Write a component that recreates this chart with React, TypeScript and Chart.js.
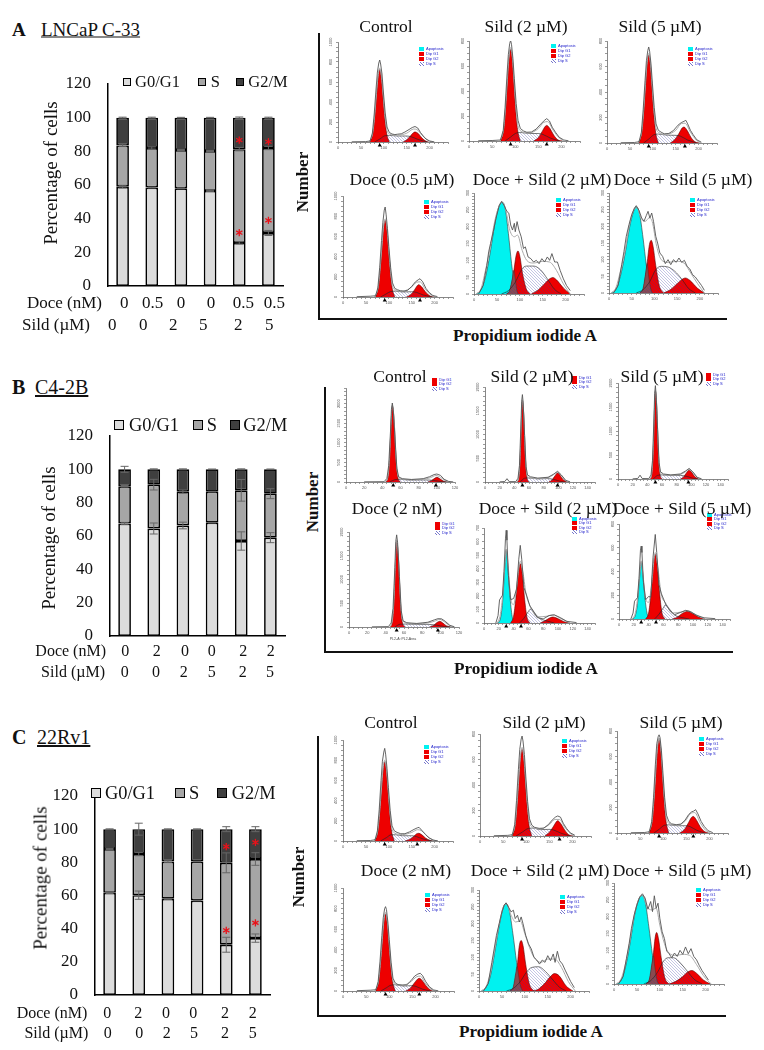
import React, { useEffect, useRef } from "react";
import { Chart, registerables } from "chart.js";
Chart.register(...registerables);

type P = [number, number];

// ---------- stacked bars ----------
const aDoce = ["0", "0.5", "0", "0", "0.5", "0.5"];
const aSild = ["0", "0", "2", "5", "2", "5"];
const bDoce = ["0", "2", "0", "0", "2", "2"];
const bSild = ["0", "0", "2", "5", "2", "5"];
const cDoce = ["0", "2", "0", "0", "2", "2"];
const cSild = ["0", "0", "2", "5", "2", "5"];

const aG0 = [59, 58.5, 58, 56.5, 25.6, 31.5];
const aS = [24.5, 23.5, 22.8, 23.7, 55.7, 50.5];
const aG2M = [16.5, 18, 19.2, 19.8, 18.7, 18];
const aErrG0 = [0.8, 0.3, 0.3, 0.3, 0.7, 1.5];
const aErrS = [0.7, 0.6, 0.3, 0.3, 1, 1];
const aErrTop = [0.3, 0.3, 0.2, 0.2, 0.4, 0.3];
const aStars: P[] = [[4, 31.7], [4, 86.7], [5, 39], [5, 85.7]];

const bG0 = [67.5, 64.5, 66.3, 68, 57, 59];
const bS = [22.3, 26.3, 20.3, 18.6, 30.4, 26.4];
const bG2M = [10.2, 9.2, 13.4, 13.4, 12.6, 14.6];
const bErrG0 = [0.7, 3.3, 2, 0.2, 5.5, 3];
const bErrS = [0.5, 3.2, 1, 0.2, 6.5, 3];
const bErrTop = [1.8, 0.3, 0.3, 0.2, 0.3, 0.2];
const bStars: P[] = [];

const cG0 = [61.6, 60.2, 58, 57, 30.3, 34.3];
const cS = [26.4, 24.8, 22.5, 23.5, 49.4, 47.7];
const cG2M = [12, 15, 19.5, 19.5, 20.3, 18];
const cErrG0 = [0.4, 2.5, 0.3, 0.2, 4.5, 2.5];
const cErrS = [0.3, 1, 0.7, 0.2, 6, 3.8];
const cErrTop = [0.2, 3.6, 0.2, 0.2, 1.5, 1.5];
const cStars: P[] = [[4, 39], [4, 89.5], [5, 43.5], [5, 92]];

// ---------- DNA histograms, panel A ----------
const aCtrlG1: P[] = [[70,0],[76,90],[80,250],[84,470],[87,625],[91,725],[95,625],[98,470],[102,250],[106,90],[112,0]];
const aCtrlG2: P[] = [[142,0],[150,22],[158,60],[165,95],[168,100],[175,85],[183,40],[192,8],[198,0]];
const aCtrlS: P[] = [[80,0],[92,32],[102,62],[112,66],[130,60],[150,60],[160,52],[175,25],[195,0]];
const aCtrlFit: P[] = [[68,0],[76,95],[80,260],[84,485],[87,640],[91,738],[95,645],[98,490],[102,275],[106,135],[112,80],[130,68],[150,88],[165,130],[172,125],[183,70],[195,20],[205,0]];
const aCtrlRaw: P[] = [[30,2],[60,4],[70,10],[75,90],[79,280],[83,530],[86,700],[89,790],[91,820],[93,780],[96,680],[99,500],[103,290],[107,150],[112,95],[118,80],[124,74],[130,78],[138,82],[146,100],[155,125],[162,145],[168,155],[174,140],[180,95],[186,60],[192,30],[200,10],[210,2]];

const aS2G1: P[] = [[69,0],[75,92],[79,257],[83,476],[86,638],[90,733],[94,638],[97,476],[101,257],[105,92],[111,0]];
const aS2G2: P[] = [[140,0],[150,28],[158,75],[165,118],[168,125],[175,100],[183,48],[192,10],[202,0]];
const aS2S: P[] = [[78,0],[90,32],[100,60],[112,68],[130,60],[150,60],[160,52],[175,25],[195,0]];
const aS2Fit: P[] = [[67,0],[75,98],[79,265],[83,490],[86,652],[90,748],[94,655],[97,495],[101,285],[105,140],[112,80],[130,64],[150,100],[162,150],[170,155],[182,85],[195,25],[205,0]];
const aS2Raw: P[] = [[20,2],[50,4],[68,8],[74,85],[78,270],[82,520],[85,690],[88,780],[90,805],[92,770],[95,660],[98,500],[102,300],[106,165],[111,100],[118,80],[125,70],[135,72],[145,95],[155,135],[163,165],[168,179],[174,160],[180,110],[187,70],[195,30],[205,8],[215,2]];

const aS5G1: P[] = [[70,0],[76,86],[80,241],[84,447],[87,599],[91,688],[95,599],[98,447],[102,241],[106,86],[112,0]];
const aS5G2: P[] = [[138,0],[148,28],[157,75],[164,118],[168,125],[175,98],[183,45],[192,10],[202,0]];
const aS5S: P[] = [[80,0],[92,34],[102,64],[112,70],[130,62],[150,60],[160,54],[175,25],[195,0]];
const aS5Fit: P[] = [[68,0],[76,92],[80,250],[84,460],[87,612],[91,702],[95,615],[98,465],[102,270],[106,135],[112,84],[130,68],[150,100],[162,152],[170,155],[182,85],[195,22],[205,0]];
const aS5Raw: P[] = [[30,2],[60,4],[70,10],[75,85],[79,265],[83,490],[86,645],[89,725],[91,753],[93,720],[96,620],[99,470],[103,280],[107,150],[112,100],[118,85],[125,72],[135,75],[145,98],[155,140],[162,160],[168,170],[172,178],[176,150],[182,100],[188,65],[196,25],[206,6]];

const aDG1: P[] = [[71,0],[77,95],[81,266],[85,493],[88,660],[92,759],[96,660],[99,493],[103,266],[107,95],[113,0]];
const aDG2: P[] = [[138,0],[148,24],[156,70],[162,112],[165,122],[172,98],[180,50],[190,10],[200,0]];
const aDS: P[] = [[82,0],[94,30],[104,54],[114,58],[130,50],[150,52],[160,46],[175,20],[195,0]];
const aDFit: P[] = [[69,0],[77,100],[81,275],[85,505],[88,675],[92,775],[96,678],[99,510],[103,290],[107,130],[113,70],[130,58],[150,100],[160,145],[168,150],[180,75],[192,20],[203,0]];
const aDRaw: P[] = [[30,3],[60,8],[71,12],[76,90],[80,290],[84,560],[87,740],[90,860],[92,891],[94,820],[97,680],[100,500],[104,290],[108,140],[113,85],[119,72],[125,62],[133,58],[141,66],[150,105],[158,150],[164,170],[168,181],[174,150],[181,85],[188,45],[196,15],[206,4]];

const aDS2Cy: P[] = [[5,0],[15,12],[25,50],[35,120],[45,205],[53,255],[61,273],[68,255],[75,180],[82,90],[88,30],[95,0]];
const aDS2G1: P[] = [[71,0],[79,12],[86,60],[92,115],[96,128],[100,112],[106,60],[114,15],[122,0]];
const aDS2G2: P[] = [[125,0],[140,12],[155,32],[165,45],[172,49],[180,42],[195,18],[210,0]];
const aDS2S: P[] = [[60,0],[75,10],[90,35],[105,75],[115,83],[130,83],[145,72],[160,45],[175,15],[190,0]];
const aDS2Ov: P[] = [[72,0],[78,12],[84,48],[87,70],[90,45],[93,15],[96,0]];
const aDS2Fit: P[] = [[5,0],[15,15],[25,70],[35,135],[45,215],[55,262],[62,272],[70,245],[78,190],[88,170],[95,175],[105,130],[115,100],[130,92],[150,97],[165,95],[180,70],[195,30],[210,0]];
const aDS2Raw: P[] = [[10,0],[20,25],[28,85],[32,125],[36,150],[42,185],[48,225],[55,262],[60,275],[66,262],[72,245],[76,240],[80,205],[84,190],[88,210],[90,185],[94,215],[98,190],[103,170],[108,135],[112,140],[118,110],[124,105],[130,95],[136,100],[142,90],[148,105],[154,95],[160,110],[165,100],[170,120],[176,95],[182,95],[188,70],[195,45],[202,25],[210,10]];

const aDS5Cy: P[] = [[5,0],[15,10],[25,50],[35,115],[45,195],[53,240],[60,258],[67,240],[75,165],[82,85],[88,28],[96,0]];
const aDS5G1: P[] = [[68,0],[76,14],[83,78],[89,145],[93,158],[97,140],[103,82],[111,20],[120,0]];
const aDS5G2: P[] = [[120,0],[135,10],[150,28],[160,40],[168,45],[178,38],[195,14],[210,0]];
const aDS5S: P[] = [[60,0],[75,10],[90,35],[103,70],[115,80],[130,78],[145,65],[160,42],[175,14],[190,0]];
const aDS5Ov: P[] = [[68,0],[75,14],[81,62],[84,88],[87,55],[91,18],[95,0]];
const aDS5Fit: P[] = [[5,0],[15,15],[25,65],[35,125],[45,205],[55,250],[62,255],[70,225],[80,215],[88,225],[95,215],[105,140],[115,100],[130,92],[150,95],[165,90],[180,60],[195,28],[210,0]];
const aDS5Raw: P[] = [[10,0],[20,22],[28,85],[33,125],[38,170],[44,205],[50,235],[56,255],[60,262],[66,248],[72,225],[77,215],[82,232],[86,245],[90,225],[94,240],[98,215],[103,170],[107,150],[112,120],[118,110],[124,88],[130,100],[136,85],[142,100],[148,92],[154,105],[160,92],[166,98],[172,80],[178,72],[184,55],[190,48],[197,35],[204,22],[210,8]];

// ---------- panel B ----------
const bCtrlG1: P[] = [[44,0],[46,100],[48,600],[50,1650],[51,1930],[53,1550],[55,600],[57,120],[60,0]];
const bCtrlG2: P[] = [[90,0],[94,35],[98,100],[100,119],[103,88],[107,28],[112,0]];
const bCtrlS: P[] = [[48,0],[54,60],[60,70],[70,50],[85,52],[95,45],[105,10],[112,0]];
const bCtrlFit: P[] = [[43,0],[46,110],[48,620],[50,1680],[51,1960],[53,1580],[55,640],[57,180],[60,85],[70,55],[85,70],[93,110],[99,165],[104,120],[109,40],[114,0]];
const bCtrlRaw: P[] = [[20,4],[42,8],[45,90],[47,420],[49,1300],[50,1850],[51,2017],[52,1850],[54,1100],[56,350],[58,130],[62,85],[72,65],[85,85],[92,135],[97,190],[100,204],[104,170],[108,70],[113,15],[118,3]];

const bS2G1: P[] = [[44,0],[46,80],[48,520],[50,1450],[51,1705],[53,1350],[55,520],[57,110],[60,0]];
const bS2G2: P[] = [[87,0],[91,35],[95,120],[99,190],[102,150],[106,60],[112,0]];
const bS2S: P[] = [[48,0],[54,80],[60,85],[72,65],[85,72],[95,50],[103,12],[110,0]];
const bS2Fit: P[] = [[43,0],[46,90],[48,540],[50,1480],[51,1725],[53,1370],[55,560],[57,170],[60,100],[72,75],[86,90],[93,150],[99,210],[104,140],[110,30],[115,0]];
const bS2Raw: P[] = [[20,3],[27,10],[30,70],[33,8],[42,8],[45,80],[47,350],[49,1200],[50,1700],[51,1840],[52,1680],[54,980],[56,320],[58,150],[62,110],[72,82],[86,100],[93,160],[99,225],[104,150],[110,35],[116,4]];

const bS5G1: P[] = [[44,0],[46,90],[48,560],[50,1550],[51,1825],[53,1450],[55,560],[57,115],[60,0]];
const bS5G2: P[] = [[85,0],[89,35],[93,120],[97,182],[100,150],[104,60],[110,0]];
const bS5S: P[] = [[48,0],[54,75],[60,85],[72,70],[85,75],[95,50],[103,12],[110,0]];
const bS5Fit: P[] = [[43,0],[46,100],[48,580],[50,1580],[51,1845],[53,1470],[55,600],[57,180],[60,100],[72,80],[85,95],[92,150],[97,205],[102,140],[108,30],[113,0]];
const bS5Raw: P[] = [[20,3],[27,12],[30,80],[33,10],[42,8],[45,85],[47,380],[49,1250],[50,1780],[51,1945],[52,1750],[54,1030],[56,340],[58,150],[62,105],[72,85],[85,105],[92,165],[97,220],[102,150],[108,35],[114,4]];

const bDG1: P[] = [[45,0],[47,90],[49,530],[51,1500],[52,1800],[54,1420],[56,550],[58,110],[61,0]];
const bDG2: P[] = [[88,0],[92,30],[96,95],[99,120],[102,90],[106,28],[111,0]];
const bDS: P[] = [[50,0],[56,60],[62,62],[74,55],[86,55],[95,40],[104,10],[111,0]];
const bDFit: P[] = [[44,0],[47,100],[49,550],[51,1530],[52,1825],[54,1450],[56,600],[58,170],[62,85],[74,68],[86,85],[93,120],[99,160],[104,110],[110,25],[114,0]];
const bDRaw: P[] = [[25,3],[43,8],[46,85],[48,390],[50,1250],[51,1800],[52,1940],[53,1780],[55,1060],[57,340],[59,130],[63,90],[74,75],[86,100],[93,150],[97,175],[101,172],[105,120],[110,35],[115,5]];

const bDS2Cy: P[] = [[18,0],[22,30],[25,150],[28,400],[30,535],[32,430],[35,200],[38,50],[41,0]];
const bDS2G1: P[] = [[36,0],[40,50],[43,180],[46,350],[49,437],[52,350],[55,170],[58,45],[62,0]];
const bDS2G2: P[] = [[76,0],[82,15],[88,35],[93,44],[100,32],[108,10],[116,0]];
const bDS2S: P[] = [[48,0],[54,35],[60,85],[63,103],[68,75],[75,35],[85,15],[95,0]];
const bDS2Fit: P[] = [[18,0],[22,60],[25,190],[28,420],[30,545],[33,400],[36,190],[40,135],[44,260],[49,455],[53,360],[57,210],[63,118],[72,45],[85,50],[93,60],[103,35],[115,3]];
const bDS2Raw: P[] = [[16,0],[19,55],[21,170],[25,205],[27,380],[29,620],[30,683],[31,610],[33,350],[36,172],[40,180],[44,250],[47,470],[49,572],[51,470],[54,260],[58,197],[62,125],[66,95],[72,40],[80,30],[88,55],[95,60],[103,40],[112,12],[125,3]];

const bDS5Cy: P[] = [[18,0],[22,30],[25,130],[28,360],[30,478],[32,390],[35,180],[38,45],[41,0]];
const bDS5G1: P[] = [[36,0],[40,50],[43,200],[46,430],[49,545],[52,440],[55,210],[58,55],[62,0]];
const bDS5G2: P[] = [[72,0],[78,12],[85,45],[92,64],[100,45],[108,15],[116,0]];
const bDS5S: P[] = [[48,0],[54,40],[60,95],[63,120],[68,85],[75,35],[85,12],[95,0]];
const bDS5Fit: P[] = [[18,0],[22,50],[25,170],[28,380],[30,490],[33,340],[36,170],[40,140],[44,290],[49,560],[53,410],[57,210],[63,135],[72,50],[85,60],[92,72],[103,40],[115,3]];
const bDS5Raw: P[] = [[16,0],[19,50],[21,150],[25,180],[27,340],[29,580],[30,614],[31,560],[33,310],[36,162],[40,190],[43,184],[46,520],[49,712],[51,560],[54,290],[57,218],[63,125],[69,70],[75,36],[83,55],[90,73],[97,60],[105,30],[115,10],[130,3]];

// ---------- panel C ----------
const cCtrlG1: P[] = [[70,0],[76,98],[80,275],[84,510],[87,683],[91,785],[95,683],[98,510],[102,275],[106,98],[112,0]];
const cCtrlG2: P[] = [[135,0],[145,15],[155,48],[160,70],[165,76],[172,62],[180,30],[190,6],[198,0]];
const cCtrlS: P[] = [[82,0],[95,34],[105,62],[115,62],[130,52],[150,52],[160,44],[175,20],[195,0]];
const cCtrlFit: P[] = [[68,0],[76,104],[80,285],[84,525],[87,698],[91,800],[95,700],[98,530],[102,300],[106,140],[112,80],[130,64],[150,85],[163,112],[172,100],[183,50],[195,15],[205,0]];
const cCtrlRaw: P[] = [[30,3],[60,5],[70,12],[75,100],[79,310],[83,600],[86,790],[89,880],[91,917],[93,860],[96,720],[99,530],[103,300],[107,150],[112,100],[118,85],[126,72],[135,72],[145,90],[155,115],[162,130],[166,135],[172,105],[180,65],[188,30],[197,8],[207,2]];

const cS2G1: P[] = [[70,0],[76,85],[80,238],[84,442],[87,592],[91,680],[95,592],[98,442],[102,238],[106,85],[112,0]];
const cS2G2: P[] = [[140,0],[150,30],[158,70],[165,112],[168,120],[175,95],[183,48],[192,10],[202,0]];
const cS2S: P[] = [[78,0],[92,32],[105,60],[115,62],[130,50],[150,52],[160,46],[175,22],[195,0]];
const cS2Fit: P[] = [[68,0],[76,90],[80,248],[84,455],[87,606],[91,695],[95,606],[98,458],[102,262],[106,125],[112,72],[130,56],[150,90],[162,130],[172,130],[183,70],[195,20],[205,0]];
const cS2Raw: P[] = [[30,2],[60,5],[70,10],[75,90],[79,280],[83,520],[86,680],[89,760],[91,784],[93,745],[96,640],[99,470],[103,270],[107,135],[112,85],[118,68],[128,60],[138,62],[148,90],[156,125],[163,148],[168,157],[174,148],[180,100],[187,60],[195,25],[205,6]];

const cS5G1: P[] = [[70,0],[76,92],[80,256],[84,476],[87,637],[91,732],[95,637],[98,476],[102,256],[106,92],[112,0]];
const cS5G2: P[] = [[135,0],[145,24],[153,70],[161,122],[165,130],[172,100],[180,48],[190,10],[198,0]];
const cS5S: P[] = [[80,0],[92,32],[102,60],[112,64],[130,57],[148,57],[158,50],[172,22],[190,0]];
const cS5Fit: P[] = [[68,0],[76,97],[80,266],[84,490],[87,650],[91,745],[95,652],[98,492],[102,280],[106,130],[112,76],[130,62],[148,95],[158,150],[168,160],[180,80],[192,20],[202,0]];
const cS5Raw: P[] = [[30,2],[60,4],[70,10],[75,90],[79,280],[83,540],[86,700],[89,755],[91,770],[93,750],[96,650],[99,490],[103,280],[107,140],[112,90],[118,72],[128,65],[138,70],[147,100],[155,145],[161,165],[166,172],[170,183],[175,150],[182,90],[189,50],[197,18],[207,3]];

const cDG1: P[] = [[71,0],[77,94],[81,262],[85,486],[88,651],[92,748],[96,651],[99,486],[103,262],[107,94],[113,0]];
const cDG2: P[] = [[135,0],[145,25],[153,70],[161,115],[165,123],[172,98],[180,48],[190,8],[198,0]];
const cDS: P[] = [[82,0],[94,32],[104,57],[114,60],[130,48],[148,52],[158,44],[172,18],[190,0]];
const cDFit: P[] = [[69,0],[77,100],[81,272],[85,500],[88,665],[92,763],[96,666],[99,500],[103,280],[107,125],[113,66],[130,56],[148,95],[158,135],[167,145],[178,75],[190,18],[200,0]];
const cDRaw: P[] = [[30,3],[60,8],[71,12],[76,90],[80,290],[84,540],[87,710],[90,800],[92,819],[94,790],[97,670],[100,500],[104,280],[108,125],[113,78],[119,62],[128,58],[138,60],[147,100],[155,145],[162,165],[167,172],[172,150],[179,90],[187,40],[196,10],[206,2]];

const cDS2Cy: P[] = [[5,0],[15,10],[25,45],[35,120],[45,200],[53,248],[59,260],[66,240],[74,170],[82,85],[88,30],[96,0]];
const cDS2G1: P[] = [[68,0],[76,12],[83,68],[88,135],[92,150],[96,135],[102,78],[110,20],[120,0]];
const cDS2G2: P[] = [[118,0],[130,6],[145,25],[155,42],[165,52],[175,45],[190,15],[205,0]];
const cDS2S: P[] = [[60,0],[75,8],[90,28],[103,55],[115,70],[130,72],[145,58],[160,35],[175,12],[190,0]];
const cDS2Ov: P[] = [[68,0],[75,13],[80,52],[83,72],[86,50],[90,18],[95,0]];
const cDS2Fit: P[] = [[5,0],[15,12],[25,55],[35,130],[45,205],[53,250],[60,258],[70,225],[80,205],[90,208],[100,170],[110,130],[120,100],[135,85],[150,95],[165,95],[180,70],[195,28],[210,0]];
const cDS2Raw: P[] = [[10,0],[20,22],[28,85],[33,125],[38,165],[44,200],[50,235],[55,255],[59,262],[64,250],[70,235],[75,240],[79,215],[84,225],[88,205],[92,220],[96,200],[102,165],[108,140],[114,125],[120,100],[126,92],[132,80],[138,92],[144,85],[150,105],[156,90],[162,110],[166,85],[171,118],[176,90],[182,80],[188,62],[194,45],[200,28],[208,10]];

const cDS5Cy: P[] = [[5,0],[15,10],[25,50],[35,120],[45,205],[55,255],[62,263],[68,245],[76,170],[84,85],[90,30],[98,0]];
const cDS5G1: P[] = [[70,0],[78,14],[85,78],[90,140],[93,153],[97,135],[103,78],[111,18],[120,0]];
const cDS5G2: P[] = [[120,0],[135,8],[150,22],[160,35],[170,40],[180,32],[195,12],[210,0]];
const cDS5S: P[] = [[65,0],[80,10],[95,35],[108,68],[118,78],[130,78],[145,62],[160,38],[175,14],[192,0]];
const cDS5Ov: P[] = [[70,0],[77,14],[83,62],[86,84],[89,52],[93,16],[97,0]];
const cDS5Fit: P[] = [[5,0],[15,14],[25,60],[35,130],[45,210],[55,255],[62,262],[72,230],[82,220],[92,225],[100,175],[110,120],[120,92],[135,85],[150,88],[165,85],[180,58],[195,25],[212,0]];
const cDS5Raw: P[] = [[10,0],[20,22],[27,75],[33,120],[38,165],[44,205],[50,235],[56,258],[62,268],[68,255],[74,222],[80,245],[84,215],[88,262],[92,225],[96,240],[100,195],[105,155],[110,135],[115,98],[120,90],[126,78],[132,92],[138,82],[144,100],[150,88],[156,110],[162,90],[168,105],[174,82],[180,72],[186,55],[192,40],[198,28],[206,12]];

const aCtrlMarks = [91, 168]; const aS2Marks = [90, 168]; const aS5Marks = [91, 170]; const aDMarks = [91, 168];
const bCtrlMarks = [52, 99]; const bS2Marks = [51, 99]; const bS5Marks = [51, 96]; const bDMarks = [52, 97]; const bDS2Marks = [30, 50]; const bDS5Marks = [30, 50];
const cCtrlMarks = [91, 162]; const cS2Marks = [91, 172]; const cS5Marks = [91, 165]; const cDMarks = [92, 165];

const fourRows = ["Apoptosis", "Dip G1", "Dip G2", "Dip S"];
const threeRows = ["Dip G1", "Dip G2", "Dip S"];

const serif = "'Liberation Serif', 'Times New Roman', serif";
const sans = "'Liberation Sans', Arial, sans-serif";
const barColors = ["#DCDCDC", "#A6A6A6", "#3F3F3F"];

function makeHatch(ctx: CanvasRenderingContext2D) {
  const c = document.createElement("canvas");
  c.width = 3;
  c.height = 3;
  const g = c.getContext("2d")!;
  g.strokeStyle = "rgba(58,58,165,0.5)";
  g.lineWidth = 0.6;
  g.beginPath();
  g.moveTo(0, 0); g.lineTo(3, 3);
  g.moveTo(-1, 2); g.lineTo(1, 4);
  g.moveTo(2, -1); g.lineTo(4, 1);
  g.stroke();
  return ctx.createPattern(c, "repeat")!;
}

const noPadX = (sc: any, h: number) => { sc.height = h; sc.paddingLeft = 0; sc.paddingRight = 0; sc.paddingTop = 0; sc.paddingBottom = 0; };
const noPadY = (sc: any, w: number) => { sc.width = w; sc.paddingLeft = 0; sc.paddingRight = 0; sc.paddingTop = 0; sc.paddingBottom = 0; };

function Text(props: { x: number; y: number; size: number; bold?: boolean; children: React.ReactNode; align?: "l" | "c" | "r"; rotate?: boolean; underline?: boolean; color?: string; font?: string }) {
  const { x, y, size, bold, children, align = "c", rotate, underline, color = "#111", font = serif } = props;
  const tx = align === "c" ? "-50%" : align === "r" ? "-100%" : "0";
  return (
    <div style={{ position: "absolute", left: x, top: y, transform: `translate(${tx},-50%)${rotate ? " rotate(-90deg)" : ""}`, fontFamily: font, fontSize: size, fontWeight: bold ? 700 : 400, whiteSpace: "nowrap", lineHeight: 1, color, textDecoration: underline ? "underline" : "none", pointerEvents: "none" }}>
      {children}
    </div>
  );
}

function BarChart(props: { left: number; right: number; y100: number; y0: number; g0: number[]; s: number[]; g2: number[]; errG0: number[]; errS: number[]; errTop: number[]; stars: P[]; labels: string[] }) {
  const { left, right, y100, y0, g0, s, g2, errG0, errS, errTop, stars, labels } = props;
  const ref = useRef<HTMLCanvasElement>(null);
  const top0 = Math.round(y0 - (y0 - y100) * 1.2);
  const canvasTop = top0 - 14;
  const width = Math.round(right) + 6;
  const height = Math.round(y0) - canvasTop + 16;
  useEffect(() => {
    const overlay = {
      id: "errorsAndStars",
      afterDatasetsDraw(chart: any) {
        const { ctx, scales } = chart;
        const xs = scales.x, ys = scales.y;
        ctx.save();
        ctx.strokeStyle = "#666";
        ctx.lineWidth = 1;
        labels.forEach((_, i) => {
          const px = xs.getPixelForValue(i);
          const tops = [g0[i], g0[i] + s[i], 100];
          const errs = [errG0[i], errS[i], errTop[i]];
          tops.forEach((t, k) => {
            const a = ys.getPixelForValue(t + errs[k]);
            const b = ys.getPixelForValue(t - errs[k]);
            ctx.beginPath();
            ctx.moveTo(px, a); ctx.lineTo(px, b);
            ctx.moveTo(px - 4, a); ctx.lineTo(px + 4, a);
            ctx.moveTo(px - 4, b); ctx.lineTo(px + 4, b);
            ctx.stroke();
          });
        });
        ctx.strokeStyle = "#E8121A";
        ctx.lineWidth = 1.3;
        stars.forEach(([i, v]) => {
          const px = xs.getPixelForValue(i);
          const py = ys.getPixelForValue(v);
          for (let k = 0; k < 3; k++) {
            const a = (k * Math.PI) / 3 + Math.PI / 2;
            ctx.beginPath();
            ctx.moveTo(px - Math.cos(a) * 3.6, py - Math.sin(a) * 3.6);
            ctx.lineTo(px + Math.cos(a) * 3.6, py + Math.sin(a) * 3.6);
            ctx.stroke();
          }
        });
        ctx.restore();
      },
    };
    const chart = new Chart(ref.current!, {
      type: "bar",
      data: {
        labels,
        datasets: [
          { label: "G0/G1", data: g0, backgroundColor: barColors[0] },
          { label: "S", data: s, backgroundColor: barColors[1] },
          { label: "G2/M", data: g2, backgroundColor: barColors[2] },
        ].map((d) => ({ ...d, borderColor: "#000", borderWidth: 1.7, borderSkipped: false, categoryPercentage: 1, barPercentage: 0.435 })),
      },
      options: {
        animation: false,
        responsive: false,
        maintainAspectRatio: false,
        layout: { autoPadding: false, padding: { left: 0, right: width - right, top: 14, bottom: 16 } },
        plugins: { legend: { display: false }, tooltip: { enabled: false } },
        scales: {
          x: {
            stacked: true,
            ticks: { display: false },
            grid: { display: false },
            border: { color: "#000", width: 1.5 },
            afterFit: (sc: any) => noPadX(sc, 0),
          },
          y: {
            stacked: true,
            min: 0,
            max: 120,
            ticks: { stepSize: 20, color: "#111", padding: 17, font: { family: serif, size: 17 } },
            grid: { display: false, drawTicks: false },
            border: { color: "#000", width: 1.5 },
            afterFit: (sc: any) => noPadY(sc, left),
          },
        },
      } as any,
      plugins: [overlay],
    });
    return () => chart.destroy();
  }, []);
  return <canvas ref={ref} width={width} height={height} style={{ position: "absolute", left: 0, top: canvasTop, width, height }} />;
}

function BarLegend(props: { y: number; size: number; box: number; xs: number[]; tx: number[] }) {
  const { y, size, box, xs, tx } = props;
  const names = ["G0/G1", "S", "G2/M"];
  return (
    <>
      {names.map((n, i) => (
        <React.Fragment key={n}>
          <div style={{ position: "absolute", left: xs[i], top: y - box / 2, width: box - 2, height: box - 2, background: barColors[i], border: "1px solid #000" }} />
          <Text x={tx[i]} y={y} size={size} align="l">{n}</Text>
        </React.Fragment>
      ))}
    </>
  );
}

type Flow = { l: number; b: number; t: number; r: number; xMax: number; yMax: number; xMinor: number; xLab: number; yMinor: number; yLab: number; g1: P[]; g2: P[]; s: P[]; fit: P[]; raw: P[]; cy?: P[]; ov?: P[]; marks?: number[] };

const xy = (a: P[]) => a.map(([x, y]) => ({ x, y }));

function FlowChart({ p }: { p: Flow }) {
  const ref = useRef<HTMLCanvasElement>(null);
  const pl = 14, pt = 6, pr = 6, pb = 14;
  const L = Math.round(p.l), T = Math.round(p.t), R = Math.round(p.r), B = Math.round(p.b);
  const width = R - L + pl + pr, height = B - T + pt + pb;
  useEffect(() => {
    const ctx = ref.current!.getContext("2d")!;
    const hatch = makeHatch(ctx);
    const area = (data: P[], bg: any, border = "#5a0000") => ({
      data: xy(data), backgroundColor: bg, borderColor: border, borderWidth: 0.6, pointRadius: 0, fill: "origin", cubicInterpolationMode: "monotone",
    });
    const datasets: any[] = [
      { data: xy(p.raw), borderColor: "#555", borderWidth: 0.9, pointRadius: 0, fill: false, tension: 0 },
      { data: xy(p.fit), borderColor: "#aaa", borderWidth: 1, pointRadius: 0, fill: false, cubicInterpolationMode: "monotone" },
      area(p.s, hatch, "#222"),
    ];
    if (p.ov) datasets.push(area(p.ov, "#8a4a50", "#5a2a2a"));
    datasets.push(area(p.g1, "#EE0000"), area(p.g2, "#EE0000"));
    if (p.cy) datasets.push(area(p.cy, "#00F2F0", "#333"));
    const marks = {
      id: "gateMarks",
      afterDraw(chart: any) {
        if (!p.marks) return;
        const c = chart.ctx;
        c.save();
        c.fillStyle = "#000";
        p.marks.forEach((v) => {
          const x = chart.scales.x.getPixelForValue(v);
          const y = chart.chartArea.bottom + 1;
          c.beginPath();
          c.moveTo(x, y); c.lineTo(x - 2, y + 3.5); c.lineTo(x + 2, y + 3.5);
          c.closePath();
          c.fill();
        });
        c.restore();
      },
    };
    const tickFont = { family: sans, size: 4 };
    const chart = new Chart(ref.current!, {
      type: "line",
      data: { datasets },
      options: {
        animation: false,
        responsive: false,
        maintainAspectRatio: false,
        layout: { autoPadding: false, padding: { left: 0, right: pr, top: pt, bottom: 0 } },
        plugins: { legend: { display: false }, tooltip: { enabled: false } },
        scales: {
          x: {
            type: "linear",
            min: 0,
            max: p.xMax,
            ticks: { stepSize: p.xMinor, autoSkip: false, maxRotation: 0, color: "#555", padding: 1, font: tickFont, callback: (v: number) => (v % p.xLab === 0 ? String(v) : "") },
            grid: { drawOnChartArea: false, tickLength: 2, color: "#555", lineWidth: 0.6 },
            border: { color: "#555", width: 0.7 },
            afterFit: (sc: any) => noPadX(sc, pb),
          },
          y: {
            min: 0,
            max: p.yMax,
            ticks: { stepSize: p.yMinor, autoSkip: false, minRotation: 90, maxRotation: 90, crossAlign: "center", color: "#555", padding: 1, font: tickFont, callback: (v: number) => (v % p.yLab === 0 ? String(v) : "") },
            grid: { drawOnChartArea: false, tickLength: 2, color: "#555", lineWidth: 0.6 },
            border: { color: "#555", width: 0.7 },
            afterFit: (sc: any) => noPadY(sc, pl),
          },
        },
      } as any,
      plugins: [marks],
    });
    return () => chart.destroy();
  }, []);
  return <canvas ref={ref} width={width} height={height} style={{ position: "absolute", left: L - pl, top: T - pt, width, height }} />;
}

function FlowLegend({ x, y, rows, step }: { x: number; y: number; rows: string[]; step: number }) {
  return (
    <>
      {rows.map((r, i) => {
        const hatch = r === "Dip S";
        const bg = r === "Apoptosis" ? "#00F2F0" : hatch ? "repeating-linear-gradient(45deg,#fff 0 1px,#7777cc 1px 2px)" : "#EE0000";
        return (
          <React.Fragment key={r}>
            <div style={{ position: "absolute", left: x, top: y + i * step, width: 5, height: 4, background: bg }} />
            <Text x={x + 7} y={y + i * step + 2} size={4} align="l" color="#2222cc" font={sans}>{r}</Text>
          </React.Fragment>
        );
      })}
    </>
  );
}

const base240 = { xMax: 240, xMinor: 10, xLab: 50 };
const base120 = { xMax: 120, xMinor: 5, xLab: 20 };
const base150 = { xMax: 150, xMinor: 5, xLab: 20 };
const y1000 = { yMax: 1000, yMinor: 50, yLab: 200 };
const y800 = { yMax: 800, yMinor: 50, yLab: 200 };
const y300 = { yMax: 300, yMinor: 10, yLab: 50 };

const flows: Flow[] = [
  { l: 338, b: 142, t: 42, r: 448, ...base240, ...y1000, g1: aCtrlG1, g2: aCtrlG2, s: aCtrlS, fit: aCtrlFit, raw: aCtrlRaw, marks: aCtrlMarks },
  { l: 469, b: 141, t: 41, r: 580, ...base240, ...y800, g1: aS2G1, g2: aS2G2, s: aS2S, fit: aS2Fit, raw: aS2Raw, marks: aS2Marks },
  { l: 607, b: 143, t: 41, r: 717, ...base240, ...y800, g1: aS5G1, g2: aS5G2, s: aS5S, fit: aS5Fit, raw: aS5Raw, marks: aS5Marks },
  { l: 343, b: 297, t: 196, r: 453, ...base240, ...y1000, g1: aDG1, g2: aDG2, s: aDS, fit: aDFit, raw: aDRaw, marks: aDMarks },
  { l: 474, b: 294, t: 193, r: 584, ...base240, ...y300, g1: aDS2G1, g2: aDS2G2, s: aDS2S, fit: aDS2Fit, raw: aDS2Raw, cy: aDS2Cy, ov: aDS2Ov },
  { l: 609, b: 293, t: 193, r: 718, ...base240, ...y300, g1: aDS5G1, g2: aDS5G2, s: aDS5S, fit: aDS5Fit, raw: aDS5Raw, cy: aDS5Cy, ov: aDS5Ov },
  { l: 346, b: 482, t: 388, r: 455, ...base120, yMax: 2400, yMinor: 100, yLab: 500, g1: bCtrlG1, g2: bCtrlG2, s: bCtrlS, fit: bCtrlFit, raw: bCtrlRaw, marks: bCtrlMarks },
  { l: 485, b: 482, t: 387, r: 595, ...base150, yMax: 2000, yMinor: 100, yLab: 500, g1: bS2G1, g2: bS2G2, s: bS2S, fit: bS2Fit, raw: bS2Raw, marks: bS2Marks },
  { l: 618, b: 479, t: 383, r: 728, ...base150, yMax: 2000, yMinor: 100, yLab: 500, g1: bS5G1, g2: bS5G2, s: bS5S, fit: bS5Fit, raw: bS5Raw, marks: bS5Marks },
  { l: 349, b: 627, t: 532, r: 459, ...base120, yMax: 2000, yMinor: 100, yLab: 500, g1: bDG1, g2: bDG2, s: bDS, fit: bDFit, raw: bDRaw, marks: bDMarks },
  { l: 484, b: 623, t: 528, r: 595, ...base150, yMax: 700, yMinor: 50, yLab: 100, g1: bDS2G1, g2: bDS2G2, s: bDS2S, fit: bDS2Fit, raw: bDS2Raw, cy: bDS2Cy, marks: bDS2Marks },
  { l: 619, b: 619, t: 524, r: 730, ...base150, yMax: 800, yMinor: 50, yLab: 200, g1: bDS5G1, g2: bDS5G2, s: bDS5S, fit: bDS5Fit, raw: bDS5Raw, cy: bDS5Cy, marks: bDS5Marks },
  { l: 343, b: 841, t: 740, r: 453, ...base240, ...y1000, g1: cCtrlG1, g2: cCtrlG2, s: cCtrlS, fit: cCtrlFit, raw: cCtrlRaw, marks: cCtrlMarks },
  { l: 480, b: 836, t: 734, r: 591, ...base240, ...y800, g1: cS2G1, g2: cS2G2, s: cS2S, fit: cS2Fit, raw: cS2Raw, marks: cS2Marks },
  { l: 617, b: 833, t: 731, r: 728, ...base240, ...y800, g1: cS5G1, g2: cS5G2, s: cS5S, fit: cS5Fit, raw: cS5Raw, marks: cS5Marks },
  { l: 343, b: 991, t: 888, r: 454, ...base240, ...y1000, g1: cDG1, g2: cDG2, s: cDS, fit: cDFit, raw: cDRaw, marks: cDMarks },
  { l: 479, b: 991, t: 890, r: 589, ...base240, ...y300, g1: cDS2G1, g2: cDS2G2, s: cDS2S, fit: cDS2Fit, raw: cDS2Raw, cy: cDS2Cy, ov: cDS2Ov },
  { l: 614, b: 984, t: 883, r: 724, ...base240, ...y300, g1: cDS5G1, g2: cDS5G2, s: cDS5S, fit: cDS5Fit, raw: cDS5Raw, cy: cDS5Cy, ov: cDS5Ov },
];

const flowLegends: [number, number, string[], number][] = [
  [419, 47, fourRows, 5], [551, 44, fourRows, 5], [688, 47, fourRows, 5], [424, 200, fourRows, 5], [556, 198, fourRows, 5], [690, 198, fourRows, 5],
  [432, 378, threeRows, 4.3], [572, 376, threeRows, 4.3], [706, 373, threeRows, 4.3], [435, 522, threeRows, 4.3], [572, 517, fourRows, 4.3], [707, 513, fourRows, 4.3],
  [424, 745, fourRows, 5], [562, 739, fourRows, 5], [699, 737, fourRows, 5], [425, 893, fourRows, 5], [560, 895, fourRows, 5], [696, 888, fourRows, 5],
];

const titles: [string, number, number][] = [
  ["Control", 386, 27], ["Sild (2 µM)", 526, 27], ["Sild (5 µM)", 660, 27],
  ["Doce (0.5 µM)", 402, 180], ["Doce + Sild (2 µM)", 542, 180], ["Doce + Sild (5 µM)", 683, 180],
  ["Control", 400, 377], ["Sild (2 µM)", 532, 377], ["Sild (5 µM)", 662, 377],
  ["Doce (2 nM)", 397, 509], ["Doce + Sild (2 µM)", 548, 509], ["Doce + Sild (5 µM)", 682, 509],
  ["Control", 391, 723], ["Sild (2 µM)", 544, 723], ["Sild (5 µM)", 681, 723],
  ["Doce (2 nM)", 406, 871], ["Doce + Sild (2 µM)", 540, 871], ["Doce + Sild (5 µM)", 682, 871],
];

const frames: [number, number, number, number][] = [
  [318, 33, 320, 727], [324, 387, 653, 733], [317, 736, 1017, 726],
];

function Row(props: { labels: string[]; xs: number[]; y: number; size: number; title: string; titleRight: number }) {
  const { labels, xs, y, size, title, titleRight } = props;
  return (
    <>
      <Text x={titleRight} y={y} size={size} align="r">{title}</Text>
      {labels.map((l, i) => <Text key={i} x={xs[i]} y={y} size={size}>{l}</Text>)}
    </>
  );
}

export default function App() {
  return (
    <div style={{ position: "absolute", left: 0, top: 0, width: 764, height: 1050, background: "#fff", overflow: "hidden" }}>
      <BarChart left={108} right={283} y100={117.7} y0={286} g0={aG0} s={aS} g2={aG2M} errG0={aErrG0} errS={aErrS} errTop={aErrTop} stars={aStars} labels={aDoce} />
      <BarChart left={110} right={285} y100={469.3} y0={635.7} g0={bG0} s={bS} g2={bG2M} errG0={bErrG0} errS={bErrS} errTop={bErrTop} stars={bStars} labels={bDoce} />
      <BarChart left={95} right={270} y100={829} y0={995} g0={cG0} s={cS} g2={cG2M} errG0={cErrG0} errS={cErrS} errTop={cErrTop} stars={cStars} labels={cDoce} />
      {flows.map((p, i) => <FlowChart key={i} p={p} />)}
      {flowLegends.map(([x, y, r, s], i) => <FlowLegend key={i} x={x} y={y} rows={r} step={s} />)}
      {titles.map(([t, x, y], i) => <Text key={i} x={x} y={y} size={17.5}>{t}</Text>)}
      {frames.map(([x, t, b, r], i) => (
        <React.Fragment key={i}>
          <div style={{ position: "absolute", left: x, top: t, width: 2, height: b - t, background: "#111" }} />
          <div style={{ position: "absolute", left: x, top: b - 2, width: r - x, height: 2, background: "#111" }} />
        </React.Fragment>
      ))}

      <Text x={12} y={29} size={19} bold align="l">A</Text>
      <Text x={41} y={29} size={19} align="l" underline>LNCaP C-33</Text>
      <Text x={12} y={387} size={20} bold align="l">B</Text>
      <Text x={35} y={387} size={20} align="l" underline>C4-2B</Text>
      <Text x={12} y={737} size={20} bold align="l">C</Text>
      <Text x={37} y={737} size={20} align="l" underline>22Rv1</Text>

      <BarLegend y={81.7} size={16.5} box={8} xs={[122.7, 197.7, 236]} tx={[135, 210.7, 248.3]} />
      <BarLegend y={425} size={18.4} box={10} xs={[114.3, 193.3, 230]} tx={[129, 206.7, 243.3]} />
      <BarLegend y={793.3} size={18.4} box={10} xs={[90.7, 175, 217.3]} tx={[105, 189, 231.7]} />

      <Text x={50} y={172.5} size={19} rotate>Percentage of cells</Text>
      <Text x={48} y={538} size={19} rotate>Percentage of cells</Text>
      <Text x={40} y={878} size={19} rotate>Percentage of cells</Text>

      <Row labels={aDoce} xs={[124.3, 152.7, 181, 211, 243.3, 274.3]} y={302} size={17} title="Doce (nM)" titleRight={102} />
      <Row labels={aSild} xs={[112.3, 143.3, 173.3, 203.3, 238.3, 269.3]} y={324} size={17} title="Sild (µM)" titleRight={90} />
      <Row labels={bDoce} xs={[125.3, 156.7, 185, 211.7, 243.3, 270.7]} y={651} size={16} title="Doce (nM)" titleRight={106} />
      <Row labels={bSild} xs={[124.7, 156, 183.7, 211.7, 242.7, 270]} y={672} size={16} title="Sild (µM)" titleRight={105} />
      <Row labels={cDoce} xs={[107.3, 138.3, 166, 193.3, 225, 252.7]} y={1013} size={16} title="Doce (nM)" titleRight={87.3} />
      <Row labels={cSild} xs={[107.7, 139.3, 166.7, 194, 225, 252.7]} y={1033} size={16} title="Sild (µM)" titleRight={88.3} />

      <Text x={302} y={182} size={17} bold rotate>Number</Text>
      <Text x={312} y={502} size={17} bold rotate>Number</Text>
      <Text x={298} y={877} size={17} bold rotate>Number</Text>
      <Text x={525} y={336} size={17.2} bold>Propidium iodide A</Text>
      <Text x={526} y={669} size={17.2} bold>Propidium iodide A</Text>
      <Text x={531} y={1032} size={17.2} bold>Propidium iodide A</Text>
      <Text x={403} y={640} size={3.5} font={sans} color="#444">PL2-A::PL2-Area</Text>
    </div>
  );
}
